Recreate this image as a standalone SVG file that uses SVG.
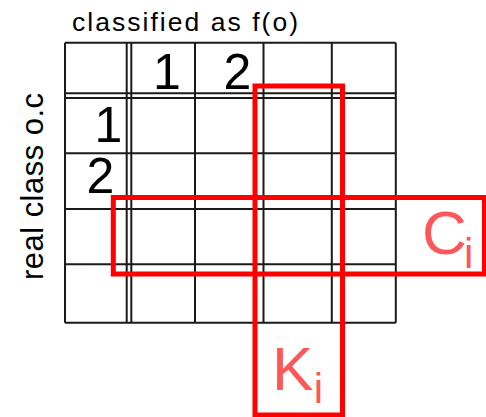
<svg xmlns="http://www.w3.org/2000/svg" width="486" height="417" viewBox="0 0 486 417">
<style>
.grid line{stroke:#1a1a1a;stroke-width:2}
.lbl{font-family:"Liberation Sans",Arial,sans-serif;fill:#000}
.big{font-size:50px}
.hl{fill:none;stroke:#ff0000;stroke-width:5}
.hlt{font-family:"Liberation Sans",Arial,sans-serif;fill:#ff5757}
</style>
<rect width="486" height="417" fill="#fff"/>
<g id="grid" class="grid">
<line x1="65" y1="42.8" x2="65" y2="322.7"/>
<line x1="126.7" y1="42.8" x2="126.7" y2="322.7"/>
<line x1="131.3" y1="42.8" x2="131.3" y2="322.7"/>
<line x1="195" y1="42.8" x2="195" y2="322.7"/>
<line x1="263.5" y1="42.8" x2="263.5" y2="322.7"/>
<line x1="331.8" y1="42.8" x2="331.8" y2="322.7"/>
<line x1="395.8" y1="42.8" x2="395.8" y2="322.7"/>
<line x1="65" y1="42.8" x2="395.8" y2="42.8"/>
<line x1="65" y1="93.3" x2="395.8" y2="93.3"/>
<line x1="65" y1="98" x2="395.8" y2="98"/>
<line x1="65" y1="153.3" x2="395.8" y2="153.3"/>
<line x1="65" y1="209" x2="395.8" y2="209"/>
<line x1="65" y1="264.3" x2="395.8" y2="264.3"/>
<line x1="65" y1="322.7" x2="395.8" y2="322.7"/>
</g>
<g id="axis-labels">
<text class="lbl" x="72" y="30.7" font-size="26.5" textLength="226" lengthAdjust="spacing">classified as f(o)</text>
<text class="lbl" transform="translate(43.3,280) rotate(-90)" font-size="31" textLength="187" lengthAdjust="spacing">real class o.c</text>
</g>
<g id="header-labels">
<text class="lbl big" x="153" y="88.5">1</text>
<text class="lbl big" x="223.5" y="88.5">2</text>
<text class="lbl big" x="94.4" y="141.7">1</text>
<text class="lbl big" x="86.5" y="192.5">2</text>
</g>
<g id="Ci">
<rect class="hl" x="113.3" y="197.5" width="371.2" height="76.5"/>
<text class="hlt"><tspan x="422" y="254" font-size="62">C</tspan><tspan x="464" y="268.3" font-size="42">i</tspan></text>
</g>
<g id="Ki">
<rect class="hl" x="255" y="86" width="87.5" height="329"/>
<text class="hlt"><tspan x="272" y="390" font-size="62">K</tspan><tspan x="313.7" y="403.3" font-size="42">i</tspan></text>
</g>
</svg>
